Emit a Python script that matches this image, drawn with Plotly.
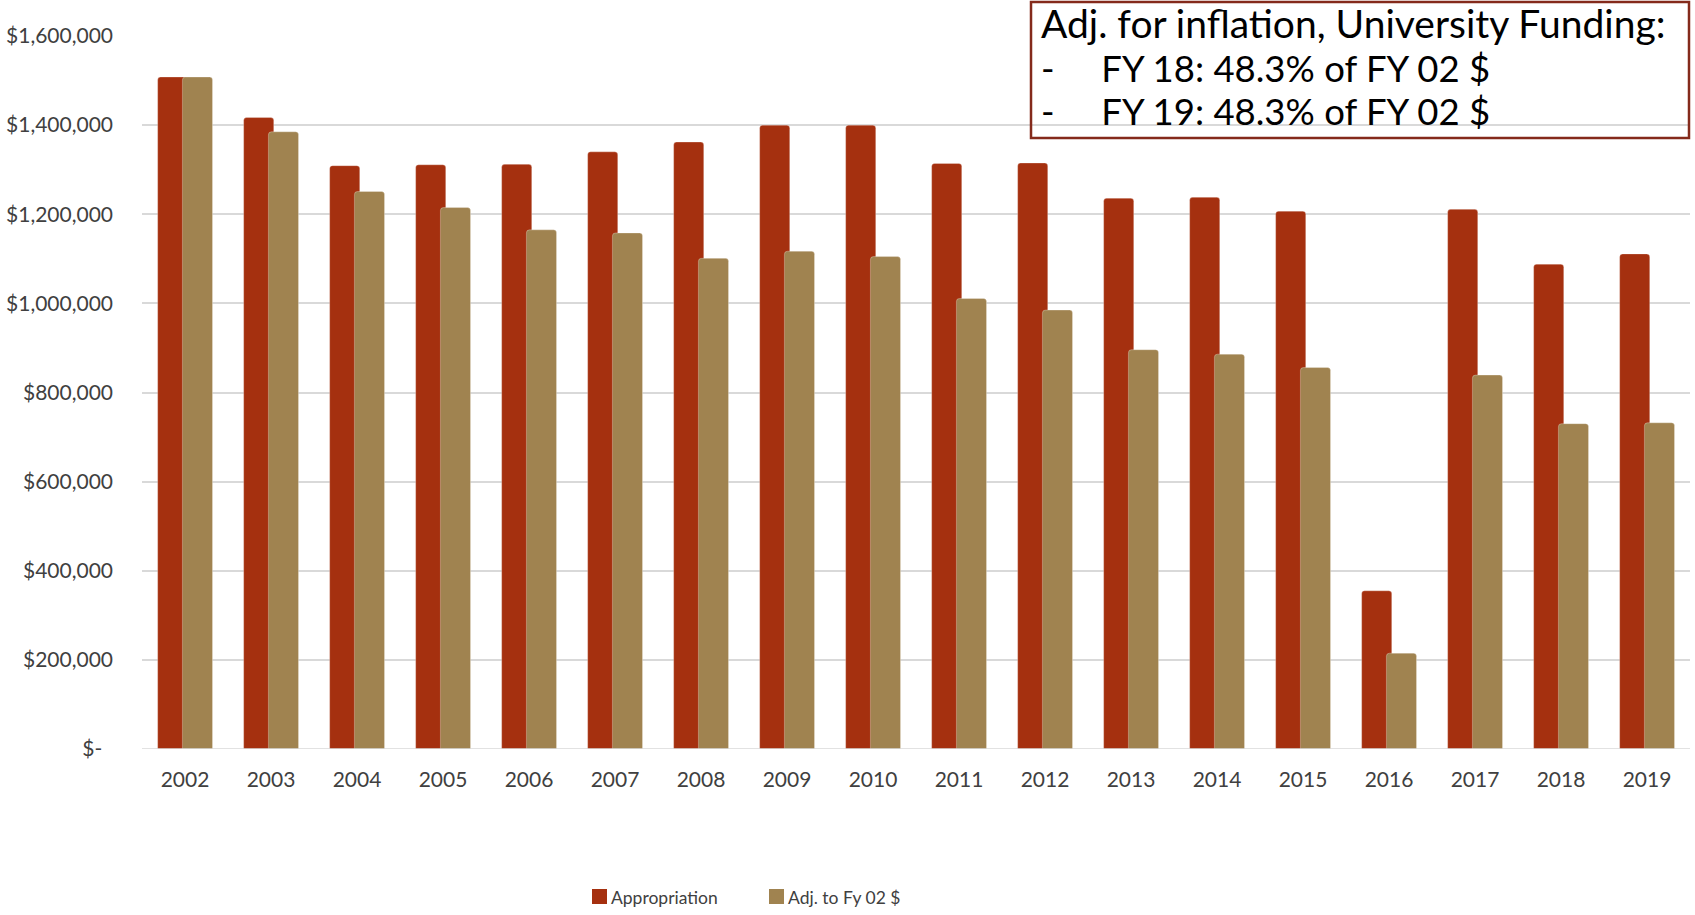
import plotly.graph_objects as go

# Fiscal years and funding values (dollars)
years = [str(y) for y in range(2002, 2020)]
appropriation = [1508000, 1417000, 1309000, 1311000, 1312000, 1340000, 1362000,
                 1400000, 1400000, 1314000, 1315000, 1236000, 1238000, 1207000,
                 355000, 1211000, 1088000, 1111000]
adjusted_fy02 = [1508000, 1385000, 1251000, 1215000, 1165000, 1158000, 1101000,
                 1117000, 1105000, 1011000, 985000, 896000, 886000, 856000,
                 215000, 839000, 730000, 732000]

y_tick_values = [0, 200000, 400000, 600000, 800000, 1000000, 1200000, 1400000, 1600000]
y_tick_labels = ["$-\u00a0\u00a0"] + [f"${v:,}" for v in y_tick_values[1:]]

series_names = ["Appropriation", "Adj. to Fy 02 $"]
note_title = "Adj. for inflation, University Funding:"
note_lines = ["FY 18: 48.3% of FY 02 $", "FY 19: 48.3% of FY 02 $"]

RED = "#A5300F"
GOLD = "#A08350"
TEXT = "#404040"
FONT = "Lato, 'Open Sans', sans-serif"

W, H = 1695, 915
M_L, M_R, M_T, M_B = 142, 5, 36, 166
PLOT_W = W - M_L - M_R
PLOT_H = H - M_T - M_B


def px_x(p):
    """Page x pixel -> paper coordinate."""
    return (p - M_L) / PLOT_W


def px_y(p):
    """Page y pixel -> paper coordinate."""
    return (H - M_B - p) / PLOT_H


fig = go.Figure()
colors = [RED, GOLD]
offsets = [-0.318, -0.03]
for name, values, color, off in zip(series_names, [appropriation, adjusted_fy02], colors, offsets):
    fig.add_trace(go.Bar(
        x=years, y=values, name=name, showlegend=False,
        width=0.35, offset=off,
        marker=dict(color=color, cornerradius=3,
                    line=dict(color="rgba(255,255,255,0.35)", width=0.8)),
    ))

# light baseline drawn across the bars
fig.add_shape(type="line", xref="paper", yref="y", x0=0, x1=1, y0=0, y1=0,
              line=dict(color="#D9D9D9", width=1.5), layer="above")

# legend: colour swatch followed directly by its label
legend_items = [(592, 609), (769, 786)]
for (sx, tx), name, color in zip(legend_items, series_names, colors):
    fig.add_shape(type="rect", xref="paper", yref="paper",
                  x0=px_x(sx), x1=px_x(sx + 15), y0=px_y(904), y1=px_y(889),
                  fillcolor=color, line=dict(width=0), layer="above")
    fig.add_annotation(xref="paper", yref="paper", x=px_x(tx), y=px_y(897),
                       xanchor="left", yanchor="middle", showarrow=False,
                       text=name, font=dict(family=FONT, size=17.5, color=TEXT))

# outlined note box
fig.add_shape(type="rect", xref="paper", yref="paper",
              x0=px_x(1031), x1=px_x(1689), y0=px_y(138), y1=px_y(2),
              line=dict(color="#842A1B", width=2.5), fillcolor="rgba(0,0,0,0)",
              layer="above")

gap = "\u00a0" * 5
note_text = (f'<span style="font-size:39px">{note_title}</span>'
             + "".join(f'<br><span style="font-size:36.5px">-{gap}{line}</span>'
                       for line in note_lines))
fig.add_annotation(xref="paper", yref="paper", x=px_x(1039), y=px_y(67),
                   xanchor="left", yanchor="middle", align="left", showarrow=False,
                   text=note_text, font=dict(family=FONT, size=33.5, color="#000000"))

fig.update_layout(
    width=W, height=H,
    margin=dict(l=M_L, r=M_R, t=M_T, b=M_B, pad=0),
    paper_bgcolor="white", plot_bgcolor="white",
    barmode="overlay",
    font=dict(family=FONT, color=TEXT),
    showlegend=False,
    xaxis=dict(type="category", showgrid=False, showline=False, zeroline=False,
               ticks="", tickfont=dict(family=FONT, size=21, color=TEXT),
               ticklabelstandoff=16, range=[-0.5, len(years) - 0.5]),
    yaxis=dict(range=[0, 1600000], tickvals=y_tick_values, ticktext=y_tick_labels,
               showgrid=True, gridcolor="#D9D9D9", gridwidth=1.5,
               showline=False, zeroline=False, ticks="",
               tickfont=dict(family=FONT, size=21, color=TEXT),
               ticklabelstandoff=28),
)

fig.write_html("out.html", post_script="document.body.style.margin='0';")
